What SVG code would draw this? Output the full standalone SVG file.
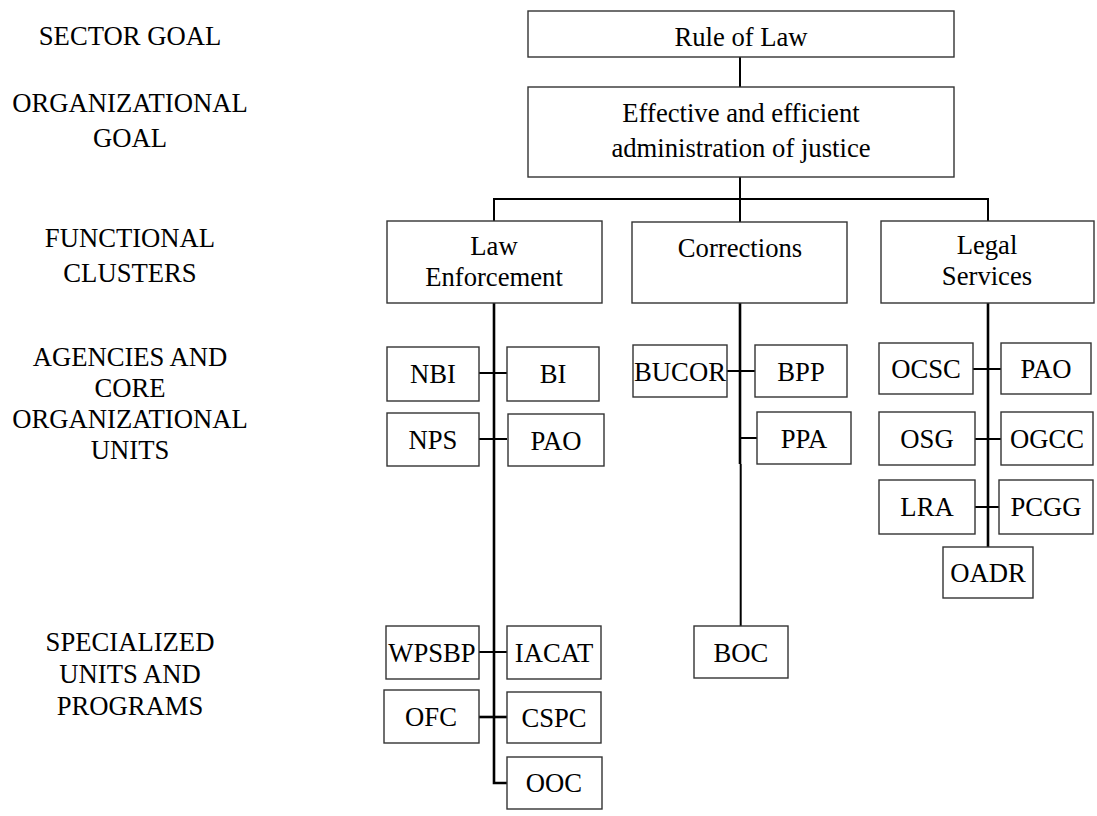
<svg xmlns="http://www.w3.org/2000/svg" width="1097" height="816" viewBox="0 0 1097 816">
<style>
  .box{fill:#fff;stroke:#333;stroke-width:1.4}
  .t{font-family:"Liberation Serif","Times New Roman",serif;font-size:26.67px;fill:#000;text-anchor:middle}
  .lbl{font-family:"Liberation Serif","Times New Roman",serif;font-size:26.67px;fill:#000;text-anchor:middle}
  .ln{stroke:#000;stroke-width:2;fill:none}
  .lnb{stroke:#000;stroke-width:2.6;fill:none}
</style>
<rect width="1097" height="816" fill="#fff"/>
<g id="levels">
  <text class="lbl" x="130" y="45">SECTOR GOAL</text>
  <text class="lbl" x="130" y="112">ORGANIZATIONAL</text>
  <text class="lbl" x="130" y="147">GOAL</text>
  <text class="lbl" x="130" y="247">FUNCTIONAL</text>
  <text class="lbl" x="130" y="282">CLUSTERS</text>
  <text class="lbl" x="130" y="366">AGENCIES AND</text>
  <text class="lbl" x="130" y="397">CORE</text>
  <text class="lbl" x="130" y="428">ORGANIZATIONAL</text>
  <text class="lbl" x="130" y="459">UNITS</text>
  <text class="lbl" x="130" y="651">SPECIALIZED</text>
  <text class="lbl" x="130" y="683">UNITS AND</text>
  <text class="lbl" x="130" y="715">PROGRAMS</text>
</g>
<g id="connectors">
  <line class="ln" x1="740" y1="57" x2="740" y2="87"/>
  <line class="ln" x1="740" y1="177" x2="740" y2="199"/>
  <polyline class="ln" points="494,221 494,199 988,199 988,221"/>
  <line class="ln" x1="740" y1="199" x2="740" y2="222"/>
  <polyline class="lnb" points="494,303 494,783 507,783"/>
  <line class="ln" x1="479" y1="373" x2="507" y2="373"/>
  <line class="ln" x1="479" y1="439" x2="507" y2="439"/>
  <line class="ln" x1="479" y1="652" x2="507" y2="652"/>
  <line class="lnb" x1="479" y1="717" x2="507" y2="717"/>
  <line class="lnb" x1="740" y1="303" x2="740" y2="464"/>
  <line class="ln" x1="740.7" y1="464" x2="740.7" y2="626"/>
  <line class="ln" x1="727" y1="371" x2="755" y2="371"/>
  <line class="ln" x1="740" y1="438" x2="757" y2="438"/>
  <line class="lnb" x1="988" y1="303" x2="988" y2="547"/>
  <line class="ln" x1="973" y1="369" x2="1001" y2="369"/>
  <line class="ln" x1="975" y1="439" x2="1001" y2="439"/>
  <line class="ln" x1="975" y1="507" x2="999" y2="507"/>
</g>
<g id="rule-of-law"><rect class="box" x="528" y="11" width="426" height="46"/><text class="t" x="741" y="46">Rule of Law</text></g>
<g id="effective-admin"><rect class="box" x="528" y="87" width="426" height="90"/><text class="t" x="741" y="122">Effective and efficient</text><text class="t" x="741" y="157">administration of justice</text></g>
<g id="law-enforcement"><rect class="box" x="387" y="221" width="215" height="82"/><text class="t" x="494" y="255">Law</text><text class="t" x="494" y="286">Enforcement</text></g>
<g id="corrections"><rect class="box" x="632" y="222" width="215" height="81"/><text class="t" x="740" y="257">Corrections</text></g>
<g id="legal-services"><rect class="box" x="881" y="221" width="213" height="82"/><text class="t" x="987" y="254">Legal</text><text class="t" x="987" y="285">Services</text></g>
<g id="nbi"><rect class="box" x="387" y="347" width="92" height="54"/><text class="t" x="433" y="383">NBI</text></g>
<g id="bi"><rect class="box" x="507" y="347" width="92" height="54"/><text class="t" x="553" y="383">BI</text></g>
<g id="nps"><rect class="box" x="387" y="413" width="92" height="53"/><text class="t" x="433" y="449">NPS</text></g>
<g id="pao-le"><rect class="box" x="508" y="414" width="96" height="52"/><text class="t" x="556" y="450">PAO</text></g>
<g id="bucor"><rect class="box" x="633" y="345" width="94" height="52"/><text class="t" x="680" y="381">BUCOR</text></g>
<g id="bpp"><rect class="box" x="755" y="345" width="92" height="52"/><text class="t" x="801" y="381">BPP</text></g>
<g id="ppa"><rect class="box" x="757" y="412" width="94" height="52"/><text class="t" x="804" y="448">PPA</text></g>
<g id="boc"><rect class="box" x="694" y="626" width="94" height="52"/><text class="t" x="741" y="662">BOC</text></g>
<g id="ocsc"><rect class="box" x="879" y="343" width="94" height="51"/><text class="t" x="926" y="378">OCSC</text></g>
<g id="pao-ls"><rect class="box" x="1001" y="343" width="90" height="51"/><text class="t" x="1046" y="378">PAO</text></g>
<g id="osg"><rect class="box" x="879" y="412" width="96" height="53"/><text class="t" x="927" y="448">OSG</text></g>
<g id="ogcc"><rect class="box" x="1001" y="412" width="92" height="53"/><text class="t" x="1047" y="448">OGCC</text></g>
<g id="lra"><rect class="box" x="879" y="480" width="96" height="54"/><text class="t" x="927" y="516">LRA</text></g>
<g id="pcgg"><rect class="box" x="999" y="480" width="94" height="54"/><text class="t" x="1046" y="516">PCGG</text></g>
<g id="oadr"><rect class="box" x="943" y="547" width="90" height="51"/><text class="t" x="988" y="582">OADR</text></g>
<g id="wpsbp"><rect class="box" x="386" y="626" width="93" height="53"/><text class="t" x="432" y="662">WPSBP</text></g>
<g id="iacat"><rect class="box" x="507" y="626" width="94" height="53"/><text class="t" x="554" y="662">IACAT</text></g>
<g id="ofc"><rect class="box" x="384" y="690" width="95" height="53"/><text class="t" x="431" y="726">OFC</text></g>
<g id="cspc"><rect class="box" x="507" y="692" width="94" height="51"/><text class="t" x="554" y="727">CSPC</text></g>
<g id="ooc"><rect class="box" x="507" y="757" width="95" height="52"/><text class="t" x="554" y="792">OOC</text></g>
</svg>
